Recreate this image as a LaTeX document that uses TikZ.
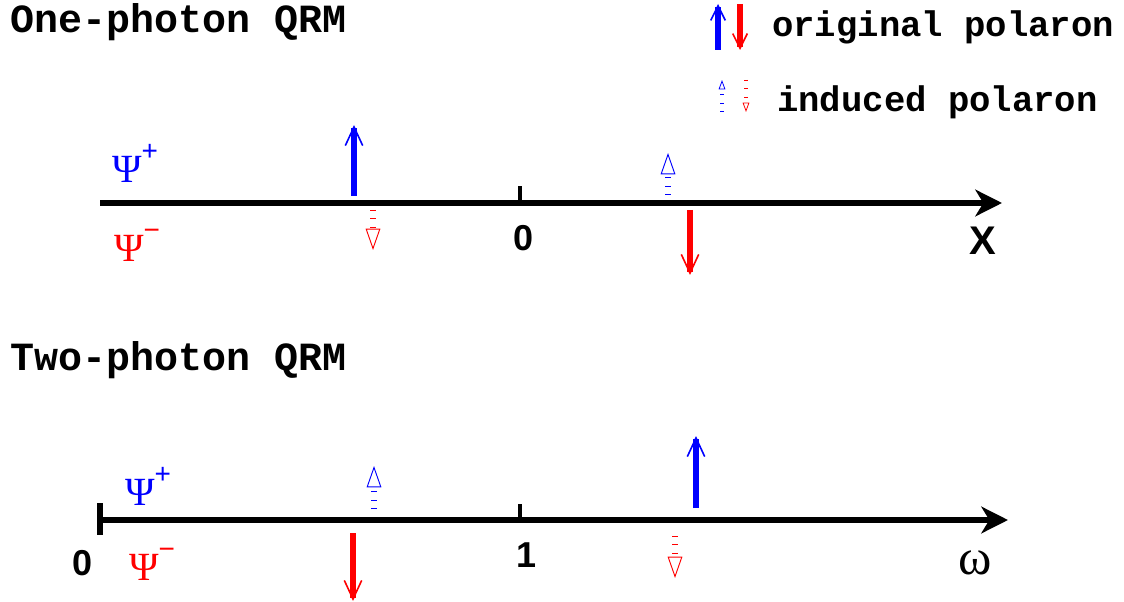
\documentclass[tikz,border=0pt]{standalone}
\usepackage{fontspec}
\usetikzlibrary{arrows.meta}
\newfontfamily\courfont{Liberation Mono}
\newfontfamily\arifont{Liberation Sans}
\newfontfamily\timfont{Liberation Serif}
\tikzset{
  title/.style={font=\courfont\bfseries\fontsize{30}{30}\selectfont, anchor=west, inner sep=0pt},
  legtext/.style={font=\courfont\bfseries\fontsize{26.7}{26.7}\selectfont, anchor=west, inner sep=0pt},
  num/.style={font=\arifont\bfseries\fontsize{27}{27}\selectfont, inner sep=0pt},
  psi/.style={font=\timfont\fontsize{30}{30}\selectfont, inner sep=0pt},
  axis/.style={line width=4.5pt, -{Stealth[length=20pt, width=20pt, inset=6pt]}},
  tick/.style={line width=3pt},
  orig/.style={line width=4.2pt, -{Straight Barb[line width=1.2pt, length=14pt, width=13pt]}},
  lgorig/.style={line width=4.2pt, -{Straight Barb[line width=1.2pt, length=11pt, width=11pt]}},
  induced/.style={line width=4.5pt, dash pattern=on 0.8pt off 5.5pt, -{Triangle[open, line width=0.7pt, length=16pt, width=11pt]}},
  lginduced/.style={line width=3.5pt, dash pattern=on 0.8pt off 5.5pt, -{Triangle[open, line width=0.6pt, length=7pt, width=5pt]}},
}
\newcommand{\psip}{{\timfont Ψ}\raisebox{0.55em}{\arifont\fontsize{21}{21}\selectfont +}}
\newcommand{\psim}{{\timfont Ψ}\raisebox{0.55em}{\arifont\fontsize{21}{21}\selectfont −}}
\begin{document}
\begin{tikzpicture}[x=0.75pt, y=-0.75pt]
\useasboundingbox (0,0) rectangle (1124,602);
% titles
\node[title] (t1) at (10,22) {One-photon QRM};
\node[title] (t2) at (10,360) {Two-photon QRM};
% legend
\coordinate (la1) at (718,50); \coordinate (la2) at (718,4);
\coordinate (lb1) at (740,4); \coordinate (lb2) at (740,50);
\draw[lgorig, blue] (la1) -- (la2);
\draw[lgorig, red] (lb1) -- (lb2);
\node[legtext] (l1) at (772,27) {original polaron};
\coordinate (lc1) at (722,112); \coordinate (lc2) at (722,80);
\coordinate (ld1) at (746,80); \coordinate (ld2) at (746,112);
\draw[lginduced, blue] (lc1) -- (lc2);
\draw[lginduced, red] (ld1) -- (ld2);
\node[legtext] (l2) at (777,102) {induced polaron};
% top axis
\coordinate (a0) at (100,203); \coordinate (a1) at (1002,203);
\draw[axis] (a0) -- (a1);
\coordinate (tk0) at (520,203); \coordinate (tk1) at (520,186);
\draw[tick] (tk0) -- (tk1);
\node[num] (z0) at (524,238) {0};
\node[num, font=\arifont\bfseries\fontsize{30}{30}\selectfont] (xl) at (983,241) {X};
\node[psi, blue] (pp1) at (135,163) {\psip};
\node[psi, red] (pm1) at (137,245) {\psim};
\coordinate (u1a) at (354,196); \coordinate (u1b) at (354,125);
\draw[orig, blue] (u1a) -- (u1b);
\coordinate (d1a) at (690,210); \coordinate (d1b) at (690,275);
\draw[orig, red] (d1a) -- (d1b);
\coordinate (i1a) at (373,210); \coordinate (i1b) at (373,250);
\draw[induced, red] (i1a) -- (i1b);
\coordinate (i2a) at (668,195); \coordinate (i2b) at (668,153);
\draw[induced, blue] (i2a) -- (i2b);
% bottom axis
\coordinate (b0) at (100,520); \coordinate (b1) at (1008,520);
\draw[axis] (b0) -- (b1);
\coordinate (bt0) at (100,503); \coordinate (bt1) at (100,535);
\draw[line width=4pt] (bt0) -- (bt1);
\coordinate (bt2) at (520,520); \coordinate (bt3) at (520,504);
\draw[tick] (bt2) -- (bt3);
\node[num] (z1) at (83,563) {0};
\node[num] (o1) at (527,555) {1};
\node[psi, font=\timfont\fontsize{38}{38}\selectfont] (om) at (975,563) {ω};
\node[psi, blue] (pp2) at (148,486) {\psip};
\node[psi, red] (pm2) at (152,564) {\psim};
\coordinate (u2a) at (696,508); \coordinate (u2b) at (696,436);
\draw[orig, blue] (u2a) -- (u2b);
\coordinate (d2a) at (353,533); \coordinate (d2b) at (353,601);
\draw[orig, red] (d2a) -- (d2b);
\coordinate (i3a) at (374,509); \coordinate (i3b) at (374,466);
\draw[induced, blue] (i3a) -- (i3b);
\coordinate (i4a) at (675,536); \coordinate (i4b) at (675,578);
\draw[induced, red] (i4a) -- (i4b);
\end{tikzpicture}
\end{document}
